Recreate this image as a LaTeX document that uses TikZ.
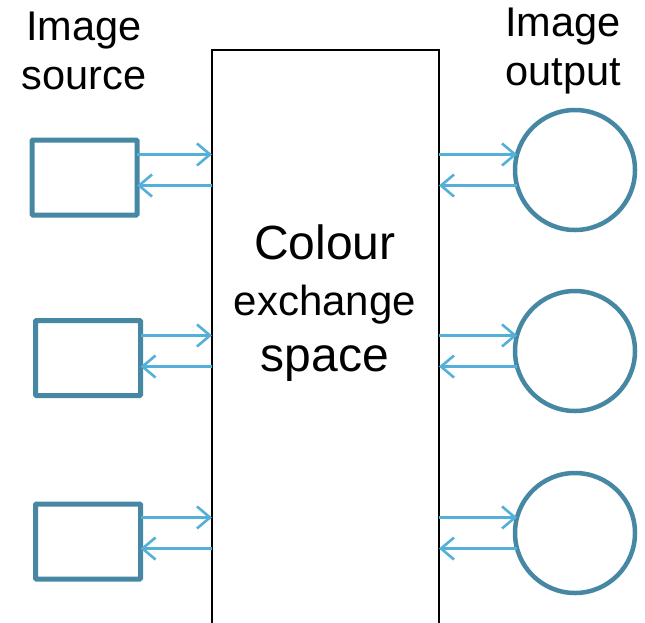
\documentclass[tikz,border=0pt]{standalone}
\usepackage{fontspec}
\setmainfont{Liberation Sans}
\usetikzlibrary{arrows.meta, positioning}
\definecolor{BoxTeal}{RGB}{70, 136, 164}
\definecolor{LinkBlue}{RGB}{84, 176, 216}

\begin{document}
\begin{tikzpicture}[
        x=1pt, y=-1pt,
        every node/.style={inner sep=0pt, outer sep=0pt},
        srcbox/.style={rectangle, draw=BoxTeal, line width=5pt, rounded corners=1pt, minimum width=105pt, minimum height=75pt},
        outcirc/.style={circle, draw=BoxTeal, line width=4.5pt, minimum size=120pt},
        hubbox/.style={rectangle, draw=black, line width=1.6pt, minimum width=227pt, minimum height=600pt},
        title/.style={align=center, font=\fontsize{41.5}{49}\selectfont},
        link/.style={line width=2.6pt, draw=LinkBlue, -{Straight Barb[length=13pt, width=22pt]}}
    ]
    \useasboundingbox (0,0) rectangle (645,622);
    \clip (0,0) rectangle (645,622);

    % Nodes
    \node[hubbox] (hub) at (325.5,350) {};
    \node[align=center, font=\fontsize{48}{56}\selectfont] (hubtext) at (325,303)
        {Colour\\{\fontsize{42}{56}\selectfont exchange}\\space};

    \node[outcirc] (out1) at (575,170) {};
    \node[outcirc] (out2) at (575,351) {};
    \node[outcirc] (out3) at (575,533) {};

    \node[srcbox] (src1) at (84.5,177.5) {};
    \node[srcbox] (src2) at (88,358) {};
    \node[srcbox] (src3) at (88,541.5) {};

    \node[title] (srclabel) at (84,51) {Image\\source};
    \node[title] (outlabel) at (563,51) {Image\\output};

    % Arrows
    \draw[link] (src1.east |- out1.165) -- (hub.west |- out1.165);
    \draw[link] (hub.west |- out1.195) -- (src1.east |- out1.195);
    \draw[link] (src2.east |- out2.165) -- (hub.west |- out2.165);
    \draw[link] (hub.west |- out2.195) -- (src2.east |- out2.195);
    \draw[link] (src3.east |- out3.165) -- (hub.west |- out3.165);
    \draw[link] (hub.west |- out3.195) -- (src3.east |- out3.195);

    \draw[link] (hub.east |- out1.165) -- (out1.165);
    \draw[link] (out1.195) -- (hub.east |- out1.195);
    \draw[link] (hub.east |- out2.165) -- (out2.165);
    \draw[link] (out2.195) -- (hub.east |- out2.195);
    \draw[link] (hub.east |- out3.165) -- (out3.165);
    \draw[link] (out3.195) -- (hub.east |- out3.195);
\end{tikzpicture}
\end{document}
